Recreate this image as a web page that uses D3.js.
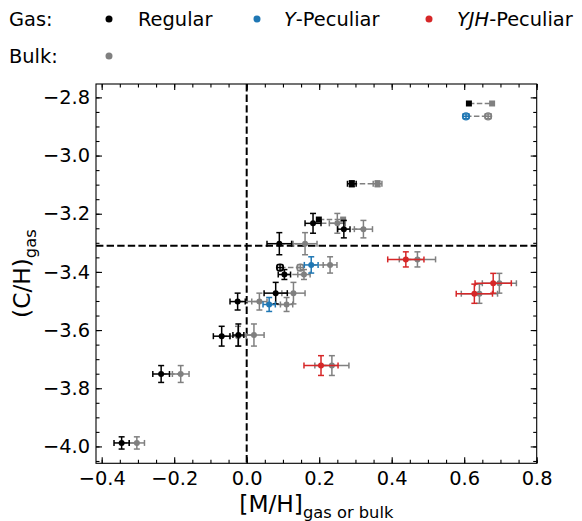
<!DOCTYPE html>
<html><head><meta charset="utf-8">
<script src="https://cdn.jsdelivr.net/npm/d3@7"></script>
<style>
body{margin:0;background:#fff;}
text{font-family:"DejaVu Sans",sans-serif;}
</style></head>
<body><svg id="c" width="582" height="521"></svg>
<script>
// ---- data ----
const pointClass = ["Regular","Y","Regular","Regular","Regular","Regular","Regular","Regular","Y","Regular","Regular","Y","Regular","Regular","Regular","Regular","Regular","YJH","YJH","YJH","YJH"];
const markerKind = ["s","open","s","o","s","o","o","open","o","o","o","o","o","o","o","o","o","o","o","o","o"];
const gasMH   = [0.613,0.605,0.290,0.183,0.199,0.268,0.090,0.092,0.178,0.104,0.080,0.062,-0.025,-0.069,-0.023,-0.236,-0.345,0.439,0.680,0.628,0.205];
const bulkMH  = [0.677,0.666,0.361,0.250,0.266,0.322,0.161,0.148,0.230,0.158,0.129,0.110,0.035,-0.024,0.020,-0.182,-0.303,0.471,0.697,0.642,0.235];
const gasCH   = [-2.821,-2.865,-3.097,-3.233,-3.220,-3.253,-3.303,-3.385,-3.376,-3.409,-3.473,-3.512,-3.502,-3.621,-3.617,-3.751,-3.988,-3.357,-3.439,-3.475,-3.722];
const errGasMH  = [0,0.008,0.012,0.022,0,0.017,0.034,0.008,0.019,0.017,0.032,0.017,0.021,0.023,0.015,0.023,0.021,0.05,0.05,0.05,0.047];
const errBulkMH = [0,0.008,0.012,0.022,0,0.025,0.033,0.008,0.019,0.017,0.032,0.017,0.021,0.023,0.028,0.023,0.021,0.05,0.047,0.05,0.047];
const errCH     = [0,0.008,0.010,0.034,0,0.030,0.038,0.010,0.028,0.017,0.037,0.024,0.029,0.034,0.038,0.029,0.021,0.026,0.034,0.033,0.034];
const xMajor = [-0.4,-0.2,0.0,0.2,0.4,0.6,0.8];
const yMajor = [-4.0,-3.8,-3.6,-3.4,-3.2,-3.0,-2.8];
const refMH = 0.0, refCH = -3.31;
const legendLabels = [["Regular",""],["Y","-Peculiar"],["YJH","-Peculiar"]];

const colors = {Regular:"#000000", Y:"#1f77b4", YJH:"#d62728"};
const bulkColor = "#808080";

// ---- layout ----
const svg = d3.select("#c");
const L=96, R=536.7, T=84, B=463.3;
const x = d3.scaleLinear().domain([-0.4157,0.8]).range([L,R]);
const y = d3.scaleLinear().domain([-4.058,-2.754]).range([B,T]);
const fmt = d3.format(".1f");
const fs = 19.4, fsLab = 23.3, fsSub = 16.3;

const xMinor = d3.range(-0.40,0.8001,0.05).map(v=>+v.toFixed(2));
const yMinor = d3.range(-4.05,-2.7549,0.05).map(v=>+v.toFixed(2));

function styleAxis(g){
  g.select(".domain").remove();
  g.selectAll("line").attr("stroke","#000").attr("stroke-width",1.1);
  g.selectAll("text").attr("font-size",fs).attr("fill","#000").attr("font-family","DejaVu Sans");
}
// minor
svg.append("g").attr("transform",`translate(0,${B})`).call(d3.axisBottom(x).tickValues(xMinor).tickSize(-3.5).tickFormat("")).call(styleAxis);
svg.append("g").attr("transform",`translate(0,${T})`).call(d3.axisTop(x).tickValues(xMinor).tickSize(-3.5).tickFormat("")).call(styleAxis);
svg.append("g").attr("transform",`translate(${L},0)`).call(d3.axisLeft(y).tickValues(yMinor).tickSize(-3.5).tickFormat("")).call(styleAxis);
svg.append("g").attr("transform",`translate(${R},0)`).call(d3.axisRight(y).tickValues(yMinor).tickSize(-3.5).tickFormat("")).call(styleAxis);
// major
svg.append("g").attr("transform",`translate(0,${B})`).call(d3.axisBottom(x).tickValues(xMajor).tickSize(-6).tickPadding(8).tickFormat(fmt)).call(styleAxis);
svg.append("g").attr("transform",`translate(0,${T})`).call(d3.axisTop(x).tickValues(xMajor).tickSize(-6).tickFormat("")).call(styleAxis);
svg.append("g").attr("transform",`translate(${L},0)`).call(d3.axisLeft(y).tickValues(yMajor).tickSize(-6).tickPadding(6).tickFormat(fmt)).call(styleAxis);
svg.append("g").attr("transform",`translate(${R},0)`).call(d3.axisRight(y).tickValues(yMajor).tickSize(-6).tickFormat("")).call(styleAxis);

// reference lines
svg.append("line").attr("x1",x(refMH)).attr("x2",x(refMH)).attr("y1",T).attr("y2",B)
  .attr("stroke","#000").attr("stroke-width",2).attr("stroke-dasharray","7.4,3.2");
svg.append("line").attr("x1",L).attr("x2",R).attr("y1",y(refCH)).attr("y2",y(refCH))
  .attr("stroke","#000").attr("stroke-width",2).attr("stroke-dasharray","7.4,3.2");

const idx = d3.range(gasMH.length);
const pg = svg.append("g");

function errBar(g, cx, cy, ex, ey, col){
  const cap=3, sw=1.5;
  if(ex>0){
    g.append("line").attr("x1",x(cx-ex)).attr("x2",x(cx+ex)).attr("y1",y(cy)).attr("y2",y(cy)).attr("stroke",col).attr("stroke-width",sw);
    [cx-ex,cx+ex].forEach(v=>g.append("line").attr("x1",x(v)).attr("x2",x(v)).attr("y1",y(cy)-cap).attr("y2",y(cy)+cap).attr("stroke",col).attr("stroke-width",sw));
  }
  if(ey>0){
    g.append("line").attr("x1",x(cx)).attr("x2",x(cx)).attr("y1",y(cy-ey)).attr("y2",y(cy+ey)).attr("stroke",col).attr("stroke-width",sw);
    [cy-ey,cy+ey].forEach(v=>g.append("line").attr("x1",x(cx)-cap).attr("x2",x(cx)+cap).attr("y1",y(v)).attr("y2",y(v)).attr("stroke",col).attr("stroke-width",sw));
  }
}
function marker(g, cx, cy, kind, col){
  const px=x(cx), py=y(cy);
  if(kind==="s") g.append("rect").attr("x",px-3).attr("y",py-3).attr("width",6).attr("height",6).attr("fill",col);
  else if(kind==="open") g.append("circle").attr("cx",px).attr("cy",py).attr("r",3.5).attr("fill","none").attr("stroke",col).attr("stroke-width",1.3);
  else g.append("circle").attr("cx",px).attr("cy",py).attr("r",3).attr("fill",col);
}
// connectors
idx.forEach(i=>{
  pg.append("line").attr("x1",x(gasMH[i])).attr("x2",x(bulkMH[i])).attr("y1",y(gasCH[i])).attr("y2",y(gasCH[i]))
    .attr("stroke",bulkColor).attr("stroke-width",1.5).attr("stroke-dasharray","5.5,2.4");
});
// bulk
idx.forEach(i=>{
  errBar(pg, bulkMH[i], gasCH[i], errBulkMH[i], errCH[i], bulkColor);
  marker(pg, bulkMH[i], gasCH[i], markerKind[i], bulkColor);
});
// gas
idx.forEach(i=>{
  const col = colors[pointClass[i]];
  errBar(pg, gasMH[i], gasCH[i], errGasMH[i], errCH[i], col);
  marker(pg, gasMH[i], gasCH[i], markerKind[i], col);
});

// frame
svg.append("rect").attr("x",L).attr("y",T).attr("width",R-L).attr("height",B-T).attr("fill","none").attr("stroke","#000").attr("stroke-width",1.1);

// axis labels
const xl = svg.append("text").attr("x",(L+R)/2).attr("y",512).attr("text-anchor","middle").attr("font-size",fsLab);
xl.append("tspan").text("[M/H]");
xl.append("tspan").attr("dy",5.5).attr("font-size",fsSub).text("gas or bulk");
const yl = svg.append("text").attr("transform",`translate(30,${(T+B)/2}) rotate(-90)`).attr("text-anchor","middle").attr("font-size",fsLab);
yl.append("tspan").text("(C/H)");
yl.append("tspan").attr("dy",5.5).attr("font-size",fsSub).text("gas");

// legend
const lg = svg.append("g");
lg.append("text").attr("x",9).attr("y",26).attr("font-size",fs).text("Gas:");
lg.append("text").attr("x",9).attr("y",63).attr("font-size",fs).text("Bulk:");
const lx = [109,257,429], tx=[138,284,457];
["Regular","Y","YJH"].forEach((k,j)=>{
  lg.append("circle").attr("cx",lx[j]).attr("cy",19).attr("r",3.5).attr("fill",colors[k]);
  const t = lg.append("text").attr("x",tx[j]).attr("y",26).attr("font-size",fs);
  if(legendLabels[j][1]===""){ t.text(legendLabels[j][0]); }
  else { t.append("tspan").attr("font-style","italic").text(legendLabels[j][0]); t.append("tspan").text(legendLabels[j][1]); }
});
lg.append("circle").attr("cx",109).attr("cy",56).attr("r",3.5).attr("fill",bulkColor);
</script></body></html>
